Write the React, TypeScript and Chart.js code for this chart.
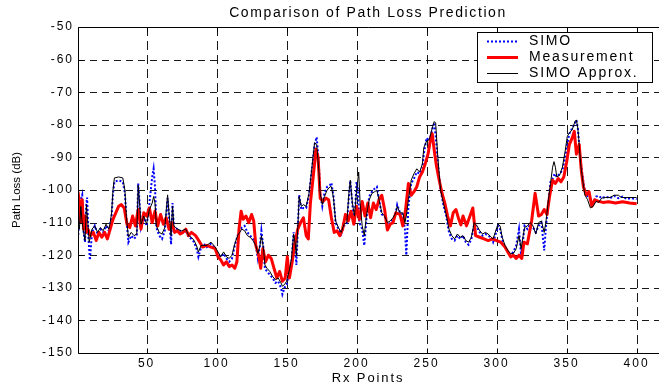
import React, { useEffect, useRef } from "react";
import { Chart, registerables } from "chart.js";

Chart.register(...registerables);

// ---------- data ----------
const rxTicks = [50, 100, 150, 200, 250, 300, 350, 400];
const lossTicks = [-150, -140, -130, -120, -110, -100, -90, -80, -70, -60, -50];

const seriesNames = ["SIMO", "Measurement", "SIMO Approx."];

// [Rx point, path loss dB]
const simoData: [number, number][] = [
  [1, -115], [2, -108], [3, -103], [4, -101.5], [5, -113], [6, -116], [7, -104], [7.5, -102.3], [8.5, -115], [9.5, -121.5],
  [11, -113], [13, -111], [15, -113.5], [17, -112], [19, -113], [21, -111], [23, -112.5], [24, -110.5], [25, -108], [26, -101],
  [27, -97.5], [30, -97], [33, -97.5], [34.5, -101], [35.5, -108.5], [37, -116], [39, -114], [41, -115], [43, -114], [44, -98],
  [45, -104], [46, -111.5], [48, -108.5], [50, -111], [52, -104], [54, -96], [55, -93.5], [56, -99], [57, -111.5], [59, -114],
  [61, -115], [63, -112.5], [65, -102.5], [66, -108], [67.5, -116.7], [68.5, -104], [69.5, -111.5], [72, -112], [75, -113], [78, -112.5],
  [80, -114.5], [82, -115], [84, -116], [86, -118.5], [87, -120.5], [89, -117.5], [91, -116.5], [93, -117.5], [96, -116.5], [99, -118],
  [101, -120], [103, -120.5], [105, -119.5], [107, -121], [109, -122], [111, -121], [113, -117], [115, -114], [116.5, -112.5], [118, -111.5],
  [120, -111], [122, -113], [124, -114], [126, -115], [128, -117], [129.5, -121], [131, -117], [132, -112.5], [133.5, -118], [134.5, -124],
  [136, -125], [138, -126], [140, -127], [142, -128.5], [144, -128], [146, -130], [147, -132], [148.5, -130], [150, -129], [152, -125],
  [153.5, -122], [155, -113], [156, -117], [157, -123], [158, -112], [159, -101.5], [160.5, -106], [162, -105.5], [164, -105.5], [166, -101.5],
  [168, -94], [170, -86], [171.5, -83.8], [173, -92], [174, -101], [175.5, -105], [177, -101], [179, -99], [181, -98.5], [182, -97.8],
  [183.5, -102], [185, -110], [187, -112], [189, -113.5], [191, -111], [193, -110.5], [194.5, -102], [195.5, -97.2], [197, -104.5], [198.5, -110],
  [200, -97.5], [201, -100], [202, -110], [204, -112], [205.5, -117], [207, -109], [209, -102], [211, -100.5], [213, -99.5], [214.5, -99],
  [216, -103], [218, -107.5], [220, -108], [222, -111], [224, -110], [226, -109], [228, -107], [229, -104.5], [231, -107], [233, -107.5],
  [234.5, -112], [235.5, -120], [237, -105], [239, -98], [241, -96.5], [243, -94.5], [245, -95], [247, -93.5], [248, -89], [250, -84],
  [252, -85], [254, -81.5], [255.5, -79.3], [257, -86], [258.5, -94], [260, -100], [262, -104.5], [264, -108], [266, -113], [268, -115],
  [270, -115.5], [272, -114], [274, -115], [276, -114], [278, -116], [280, -116.8], [282, -115], [284, -110.5], [286, -111.5], [288, -113],
  [290, -114], [292, -113.5], [294, -114], [296, -114.5], [297.5, -116], [299, -114], [301, -111], [302.5, -112], [304, -115], [306, -117.5],
  [308, -119], [310, -120], [312, -119], [314, -117], [316, -112], [317.5, -120], [319, -115], [320, -111], [322, -112], [324, -110.5],
  [326, -111.5], [328, -113], [330, -111], [332, -110], [334, -118.5], [335.5, -110], [337, -104], [338.5, -97.5], [340, -96.5], [341.5, -95],
  [343, -96], [345, -95], [347, -94], [349, -90], [350.5, -85.8], [352, -82.7], [354, -81], [356, -79.5], [357, -78.5], [358, -81],
  [359, -86], [360, -91], [361.5, -96], [363, -100.5], [365, -102], [367, -103], [369, -104.5], [371, -102], [373, -101.8], [375, -102.5],
  [378, -102], [381, -102.5], [384, -101.8], [387, -102.5], [390, -102], [393, -102.8], [396, -102.5], [400, -102.8],
];

const measurementData: [number, number][] = [
  [1, -100.5], [2, -104], [3, -110], [4, -103], [5, -112], [6, -108], [7, -113], [8, -112], [10, -114], [12, -113],
  [14, -115.5], [16, -113], [18, -114.5], [20, -113], [22, -115], [24, -112], [26, -109], [28, -107], [30, -105], [32, -104.5],
  [34, -105.5], [36, -110.5], [38, -111.5], [40, -108], [42, -111], [44, -106], [46, -112], [48, -107], [50, -108], [52, -105.5],
  [54, -110], [56, -106.5], [58, -111], [60, -107.5], [62, -110.5], [64, -108.5], [66, -112], [68, -110], [70, -113], [72, -112.5],
  [74, -113.5], [76, -113], [78, -112], [80, -114], [82, -113], [85, -114], [88, -116], [90, -117.5], [93, -117], [96, -117.5],
  [99, -118], [101, -120.5], [103, -121.5], [105, -123], [107, -122], [109, -123.5], [111, -123], [113, -124], [114.5, -122], [116, -112],
  [117.5, -106.5], [119, -109], [121, -108], [123, -110], [125, -107.5], [126.5, -109.5], [128, -117], [130, -120], [131.5, -124], [133, -118],
  [135, -122], [137, -120], [139, -121], [141, -124], [143, -127], [145, -125], [147, -128], [149, -127], [150.5, -120.5], [152, -127],
  [154, -122], [156, -116], [158, -112], [160, -110], [162, -108.5], [164, -114], [165.5, -115], [167, -104], [169, -96], [171, -87.5],
  [172.5, -90], [174, -102.5], [176, -103.5], [178, -102.5], [180, -103], [182, -108.5], [184, -113], [186, -112.5], [188, -114], [190, -112],
  [192, -107.5], [194, -109.5], [196, -106.5], [198, -110.5], [200, -105], [202, -109], [204, -103.5], [206, -108], [208, -104], [210, -108.5],
  [212, -104], [214, -106], [216, -103], [218, -101.6], [220, -106], [222, -112.3], [224, -110.5], [226, -110], [228, -107], [231, -107.5],
  [233, -111], [235, -106], [237, -98], [239, -101.6], [241, -100.5], [243, -99], [245, -96], [247, -94.5], [249, -92], [251, -89],
  [253, -84], [254, -82.7], [255.5, -88], [257, -92.5], [259, -97], [261, -101], [263, -104], [265, -108], [267, -111], [269, -107],
  [271, -106], [273, -109], [274.5, -110.7], [276, -108], [278.5, -111], [281, -108], [283, -105.5], [285, -114], [288, -114.5], [291, -115],
  [294, -115.5], [297, -115], [300, -115.5], [303, -116], [306, -117.5], [308, -119], [310, -120.5], [312, -120], [314, -121], [316, -120],
  [318, -121], [319.5, -116], [322, -116.5], [325, -109.5], [327.5, -101], [330, -108], [332, -107.5], [334, -106], [336, -107.5], [338, -101.5],
  [340, -97], [342, -98], [344, -96.5], [346, -97.5], [348, -96], [350, -91.5], [352, -86], [354, -84], [355.5, -82], [357, -89],
  [359, -86], [360.5, -94], [362, -99], [364, -101.5], [366, -100.5], [368, -105], [370, -103], [373, -103.5], [376, -103.8], [380, -103.6],
  [385, -104], [390, -103.6], [395, -104], [400, -104.2],
];

const approxData: [number, number][] = [
  [1, -110], [2, -112], [3, -105], [4, -110], [5, -113], [6, -115.5], [7, -104.5], [8, -110], [9, -116], [11, -112],
  [13, -111], [15, -113], [17, -111.5], [19, -112.5], [21, -110.5], [23, -112], [24, -110], [25, -107], [26, -100], [27, -96.3],
  [30, -96], [33, -96.3], [34.5, -100], [35.5, -108], [37, -114.5], [39, -113], [41, -114], [43, -113.5], [44, -98.5], [45, -104],
  [46, -110.5], [48, -108], [50, -110.5], [52, -106], [54, -104], [55, -102], [56, -104], [57, -111], [59, -113], [61, -113.5],
  [63, -111.5], [65, -101.5], [66, -107], [67.5, -114], [68.5, -105], [69.5, -111], [72, -112], [75, -112.5], [78, -112], [80, -114],
  [82, -114.5], [84, -115.5], [86, -117.5], [87, -119], [89, -117], [91, -117], [93, -117], [96, -116], [99, -117.5], [101, -119],
  [103, -120.5], [105, -119], [107, -120.5], [109, -121], [111, -120], [113, -116.5], [115, -114], [116.5, -113], [118, -112], [120, -112.5],
  [122, -114], [124, -114.5], [126, -115.5], [128, -117], [129.5, -119.5], [131, -117], [132, -114], [133.5, -118], [134.5, -123], [136, -124],
  [138, -125], [140, -126.5], [142, -127.5], [144, -127], [146, -128.5], [147, -129.5], [148.5, -129], [150, -128], [152, -124.5], [153.5, -121],
  [155, -113.5], [156, -116], [157, -120], [158, -111.5], [159, -102], [160.5, -105], [162, -104.5], [164, -105], [166, -101], [168, -93.5],
  [170, -85.5], [171.5, -86], [173, -94], [174, -101], [175.5, -104.5], [177, -102], [179, -100], [181, -99], [182, -99], [183.5, -102.5],
  [185, -109.5], [187, -111.5], [189, -113], [191, -110.5], [193, -110], [194.5, -101], [195.5, -97], [197, -104], [198.5, -108], [200, -100],
  [201.5, -94.5], [202.5, -104], [204, -111], [205.5, -114], [207, -108], [209, -103], [211, -101], [213, -100.5], [214.5, -100], [216, -103],
  [218, -107], [220, -108], [222, -110], [224, -109.5], [226, -108.5], [228, -107], [229, -105], [231, -107], [233, -107], [234.5, -110],
  [235.5, -108], [237, -103], [239, -97], [241, -95], [243, -93.5], [245, -94.5], [247, -92], [248, -87], [250, -85], [252, -84.5],
  [254, -81], [255.5, -79], [256.5, -79.5], [258, -90], [259, -95], [260, -100], [262, -104], [264, -107.5], [266, -112], [268, -114],
  [270, -115], [272, -113.5], [274, -114.5], [276, -114], [278, -115.5], [280, -116], [282, -114.5], [284, -110], [286, -111], [288, -112.5],
  [290, -113.5], [292, -113], [294, -113.5], [296, -114.5], [297.5, -115], [299, -113], [301, -110.5], [302.5, -111], [304, -114.5], [306, -117],
  [308, -118.5], [310, -119.5], [312, -119.5], [314, -118], [316, -114], [317.5, -118], [319, -114], [320, -111.5], [322, -111], [324, -110],
  [326, -111], [328, -113.5], [330, -110], [332, -109.5], [334, -113], [335.5, -109], [337, -103], [338.5, -98], [340, -93], [341, -91.3],
  [342, -93], [343, -96], [345, -95.5], [347, -93], [349, -88], [350.5, -83.5], [352, -82.5], [354, -81.5], [356, -79], [357, -78.5],
  [358, -81], [359, -86], [360, -92], [361.5, -97], [363, -101.5], [365, -103], [367, -105.5], [369, -105], [371, -103.5], [373, -103.8],
  [375, -102.5], [378, -102.3], [381, -102.3], [384, -101.6], [387, -101.6], [389, -102.3], [393, -102.3], [396, -102.3], [400, -102.3],
];

const titleText = "Comparison of Path Loss Prediction";
const xTitle = "Rx Points";
const yTitle = "Path Loss (dB)";

const FONT = '"Liberation Sans", Arial, Helvetica, sans-serif';

const toPts = (d: [number, number][]) => d.map(([x, y]) => ({ x, y }));

export default function App() {
  const ref = useRef<HTMLCanvasElement>(null);

  useEffect(() => {
    const canvas = ref.current;
    if (!canvas) return;

    const setLS = (ctx: any, v: string) => {
      if ("letterSpacing" in ctx) ctx.letterSpacing = v;
    };

    const matlabPlugin = {
      id: "matlabFrame",
      beforeDraw(chart: any) {
        const ctx = chart.ctx;
        ctx.save();
        ctx.fillStyle = "#ffffff";
        ctx.fillRect(0, 0, chart.width, chart.height);
        ctx.restore();
        setLS(ctx, "2px");
      },
      beforeDatasetsDraw(chart: any) {
        const { ctx, chartArea: a, scales } = chart;
        setLS(ctx, "0px");
        ctx.save();
        ctx.strokeStyle = "rgba(0,0,0,0.9)";
        ctx.lineWidth = 1;
        ctx.setLineDash([7, 5]);
        for (const v of lossTicks) {
          if (v === lossTicks[0] || v === lossTicks[lossTicks.length - 1]) continue;
          const y = Math.round(scales.y.getPixelForValue(v)) + 0.5;
          ctx.beginPath();
          ctx.moveTo(a.left, y);
          ctx.lineTo(a.right, y);
          ctx.stroke();
        }
        ctx.setLineDash([9, 5]);
        for (const v of rxTicks) {
          const x = Math.round(scales.x.getPixelForValue(v)) + 0.5;
          ctx.beginPath();
          ctx.moveTo(x, a.top);
          ctx.lineTo(x, a.bottom);
          ctx.stroke();
        }
        ctx.restore();
      },
      afterDatasetsDraw(chart: any) {
        const { ctx, chartArea: a, scales } = chart;
        ctx.save();
        ctx.setLineDash([]);
        ctx.strokeStyle = "#000";
        ctx.lineWidth = 1;
        const L = Math.round(a.left) + 0.5;
        const T = Math.round(a.top) + 0.5;
        const B = Math.round(a.bottom) + 0.5;
        // axes box (left, top, bottom)
        ctx.beginPath();
        ctx.moveTo(a.right, T);
        ctx.lineTo(L, T);
        ctx.lineTo(L, B);
        ctx.lineTo(a.right, B);
        ctx.stroke();
        // inside tick marks
        ctx.beginPath();
        for (const v of rxTicks) {
          const x = Math.round(scales.x.getPixelForValue(v)) + 0.5;
          ctx.moveTo(x, B);
          ctx.lineTo(x, B - 5);
          ctx.moveTo(x, T);
          ctx.lineTo(x, T + 5);
        }
        for (const v of lossTicks) {
          const y = Math.round(scales.y.getPixelForValue(v)) + 0.5;
          ctx.moveTo(L, y);
          ctx.lineTo(L + 5, y);
        }
        ctx.stroke();

        // legend
        const lx = 477.5, ly = 32.5, lw = 175, lh = 50;
        ctx.fillStyle = "#fff";
        ctx.fillRect(lx, ly, lw, lh);
        ctx.strokeRect(lx, ly, lw, lh);
        const rows = [41.5, 57.5, 73.5];
        const styles = [
          { color: "#0000ff", width: 2, dash: [2, 2] },
          { color: "#ff0000", width: 3, dash: [] as number[] },
          { color: "#000000", width: 1, dash: [] as number[] },
        ];
        rows.forEach((ry, i) => {
          const s = styles[i];
          ctx.save();
          ctx.strokeStyle = s.color;
          ctx.lineWidth = s.width;
          ctx.setLineDash(s.dash);
          ctx.beginPath();
          ctx.moveTo(487, ry);
          ctx.lineTo(518, ry);
          ctx.stroke();
          ctx.restore();
          ctx.save();
          setLS(ctx, "1.8px");
          ctx.fillStyle = "#000";
          ctx.font = `14px ${FONT}`;
          ctx.textAlign = "left";
          ctx.textBaseline = "middle";
          ctx.fillText(seriesNames[i], 529, ry);
          ctx.restore();
        });
        ctx.restore();
      },
      afterDraw(chart: any) {
        const { ctx, chartArea: a } = chart;
        ctx.save();
        ctx.fillStyle = "#000";
        ctx.textAlign = "center";
        ctx.textBaseline = "middle";
        setLS(ctx, "1.6px");
        ctx.font = `14px ${FONT}`;
        ctx.fillText(titleText, 368, 13);
        setLS(ctx, "1.9px");
        ctx.font = `13px ${FONT}`;
        ctx.fillText(xTitle, 368, 378.5);
        setLS(ctx, "0px");
        ctx.translate(16.5, (a.top + a.bottom) / 2);
        ctx.rotate(-Math.PI / 2);
        ctx.font = `11.5px ${FONT}`;
        ctx.fillText(yTitle, 0, 0);
        ctx.restore();
      },
    };

    const chart = new Chart(canvas, {
      type: "line",
      data: {
        datasets: [
          {
            label: seriesNames[0],
            data: toPts(simoData),
            borderColor: "#0000ff",
            borderWidth: 2,
            borderDash: [2, 2],
            pointRadius: 0,
            tension: 0,
            fill: false,
            order: 3,
          },
          {
            label: seriesNames[1],
            data: toPts(measurementData),
            borderColor: "#ff0000",
            borderWidth: 3,
            borderJoinStyle: "round",
            pointRadius: 0,
            tension: 0,
            fill: false,
            order: 2,
          },
          {
            label: seriesNames[2],
            data: toPts(approxData),
            borderColor: "#000000",
            borderWidth: 1,
            pointRadius: 0,
            tension: 0,
            fill: false,
            order: 1,
          },
        ],
      },
      options: {
        responsive: false,
        animation: false,
        events: [],
        layout: { padding: { top: 27, left: 0, right: 0, bottom: 0 } },
        plugins: {
          legend: { display: false },
          title: { display: false },
          tooltip: { enabled: false },
        },
        scales: {
          x: {
            type: "linear",
            min: 1,
            max: 416,
            grid: { display: false, drawTicks: false },
            border: { display: false },
            afterBuildTicks: (scale: any) => {
              scale.ticks = rxTicks.map((v) => ({ value: v }));
            },
            afterFit: (scale: any) => {
              scale.height = 34;
            },
            ticks: {
              autoSkip: false,
              maxRotation: 0,
              minRotation: 0,
              padding: 3,
              color: "#000",
              font: { family: FONT, size: 12 },
              callback: (v: any) => String(v),
            },
          },
          y: {
            type: "linear",
            min: -150,
            max: -50,
            grid: { display: false, drawTicks: false },
            border: { display: false },
            afterBuildTicks: (scale: any) => {
              scale.ticks = lossTicks.map((v) => ({ value: v }));
            },
            afterFit: (scale: any) => {
              scale.width = 78;
            },
            ticks: {
              padding: 4,
              color: "#000",
              font: { family: FONT, size: 12 },
              callback: (v: any) => String(v),
            },
          },
        },
      },
      plugins: [matlabPlugin],
    } as any);

    return () => chart.destroy();
  }, []);

  return (
    <div style={{ position: "absolute", left: 0, top: 0, width: 659, height: 387, background: "#fff" }}>
      <canvas ref={ref} width={659} height={387} style={{ display: "block", width: 659, height: 387 }} />
    </div>
  );
}
